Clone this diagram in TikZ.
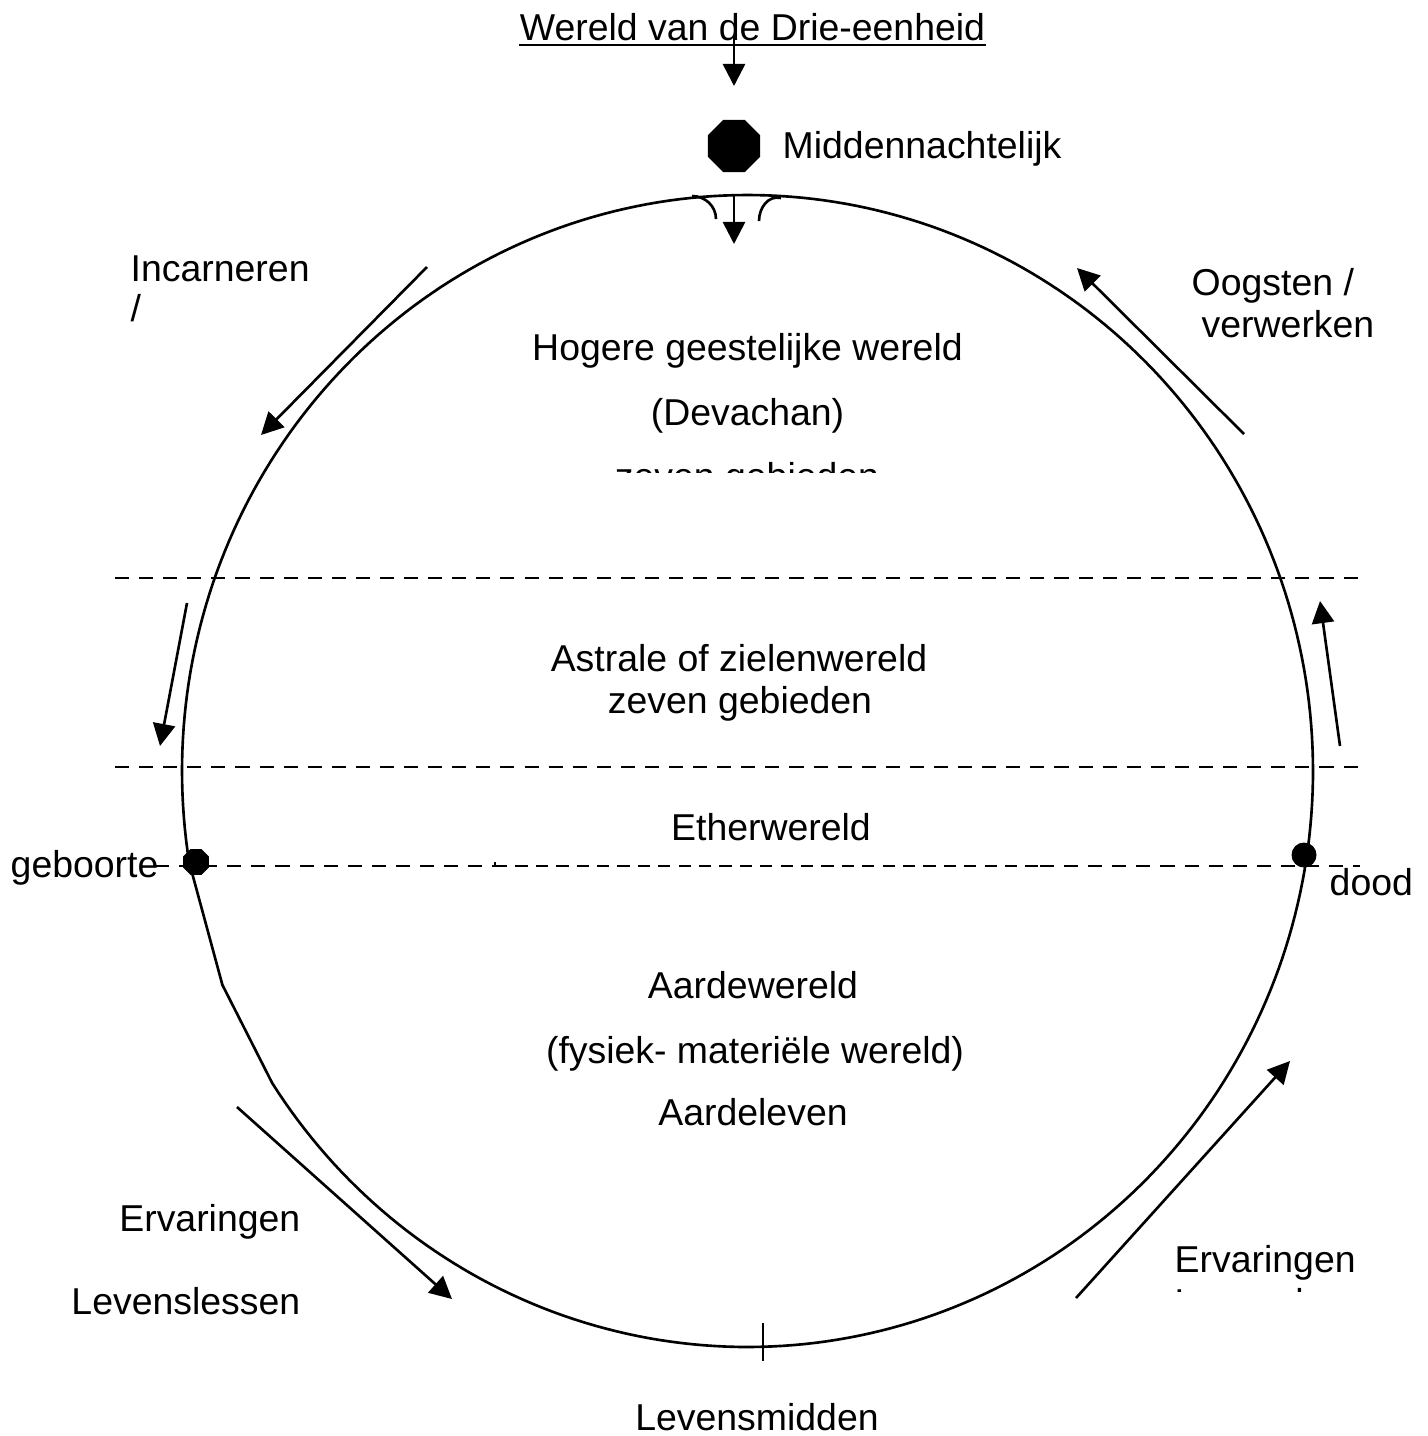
\documentclass[tikz,border=0pt]{standalone}
\usepackage{fontspec}
\setmainfont{Liberation Sans}
\usetikzlibrary{arrows.meta,shapes.geometric}
\begin{document}
\begin{tikzpicture}[x=0.01cm,y=-0.01cm,
  lbl/.style={inner sep=0pt, font=\fontsize{10.64pt}{12.8pt}\selectfont},
  ln/.style={line width=0.75pt},
  arr/.style={line width=0.75pt, -{Triangle[length=6.3pt,width=6.3pt]}},
  dsh/.style={line width=0.8pt, dash pattern=on 4pt off 2.85pt},
  thindsh/.style={line width=0.35pt, dash pattern=on 3.5pt off 2.3pt},
  oct/.style={regular polygon, regular polygon sides=8, fill=black, draw=none, inner sep=0pt}]

\useasboundingbox (0,0) rectangle (1428,1436);

% title and top arrows
\node[lbl, anchor=base] (title) at (752.5,40) {Wereld van de Drie-eenheid};
\draw[line width=0.5pt] ([yshift=-0.05cm]title.base west) -- ([yshift=-0.05cm]title.base east);
\node[oct, minimum size=0.563cm] (mid) at (734,146) {};
\node[lbl, anchor=base west] (midtxt) at (782,158) {Middennachtelijk};
\coordinate (a1s) at (734,37);
\coordinate (a1e) at (734,86);
\draw[arr] (a1s) -- (a1e);

% the circle (lower left part drawn as chords)
\coordinate (gb) at (189.1,862.1);
\coordinate (v1) at (222.4,984.9);
\draw[ln, line join=round] plot[domain=170.9:507.2, samples=300] ({747.5+565.5*cos(\x)},{771+576*sin(\x)}) -- (v1) -- cycle;

% small arcs and arrow at top of circle
\coordinate (ctop) at (734,195);
\coordinate (ctopE) at (734,244);
\draw[arr] (ctop) -- (ctopE);
\coordinate (la1) at (692,196);
\coordinate (la2) at (716,219);
\draw[ln] (la1) .. controls (705,196) and (716,206) .. (la2);
\coordinate (ra1) at (781,198);
\coordinate (ra2) at (759,221);
\draw[ln] (ra1) .. controls (768,195) and (759,208) .. (ra2);

% bottom tick
\coordinate (tk1) at (763,1323);
\coordinate (tk2) at (763,1361);
\draw[ln] (tk1) -- (tk2);

% dashed layer lines
\coordinate (d1a) at (115,578); \coordinate (d1b) at (1363,578);
\draw[dsh] (d1a) -- (d1b);
\coordinate (d2a) at (115,767); \coordinate (d2b) at (1360,767);
\draw[dsh] (d2a) -- (d2b);
\coordinate (d3a) at (155,866); \coordinate (d3b) at (495,866);
\coordinate (d3c) at (1040,866); \coordinate (d3d) at (1360,866);
\draw[dsh] (d3a) -- (d3b);
\draw[thindsh] (d3b) -- (d3c);
\draw[dsh] (d3c) -- (d3d);
\coordinate (d3t) at (495,862);
\draw[line width=0.35pt] (d3t) -- (d3b);

% dots
\node[oct, minimum size=0.28cm] (geb) at (196,862) {};
\node[circle, fill=black, inner sep=0pt, minimum size=0.25cm] (dood) at (1304,855) {};

% arrows around the circle
\coordinate (i1) at (427,267); \coordinate (i2) at (261,435);
\draw[arr] (i1) -- (i2);
\coordinate (l1) at (187,603); \coordinate (l2) at (160,746);
\draw[arr] (l1) -- (l2);
\coordinate (o1) at (1244,434); \coordinate (o2) at (1077,268);
\draw[arr] (o1) -- (o2);
\coordinate (r1) at (1340,746); \coordinate (r2) at (1320,601);
\draw[arr] (r1) -- (r2);
\coordinate (e1) at (237,1107); \coordinate (e2) at (452,1299);
\draw[arr] (e1) -- (e2);
\coordinate (f1) at (1076,1298); \coordinate (f2) at (1290,1061);
\draw[arr] (f1) -- (f2);

% labels
\node[lbl, anchor=base west] (inc) at (130,281) {Incarneren};
\node[lbl, anchor=base west] (incs) at (130,321) {/};
\node[lbl, anchor=base west] (oog) at (1191,295) {Oogsten /};
\node[lbl, anchor=base west] (verw) at (1201,337) {verwerken};

\node[lbl, anchor=base] (hog) at (747.5,360) {Hogere geestelijke wereld};
\node[lbl, anchor=base] (dev) at (747.5,425) {(Devachan)};
\begin{scope}
  \clip (500,440) rectangle (1000,472);
  \node[lbl, anchor=base] (zev1) at (747,489) {zeven gebieden};
\end{scope}

\node[lbl, anchor=base] (astr) at (739,671) {Astrale of zielenwereld};
\node[lbl, anchor=base] (zev2) at (740,713) {zeven gebieden};
\node[lbl, anchor=base] (eth) at (771,840) {Etherwereld};

\node[lbl, anchor=base west] (gebt) at (10,877) {geboorte};
\node[lbl, anchor=base west] (doodt) at (1329,895) {dood};

\node[lbl, anchor=base] (aw) at (753,998) {Aardewereld};
\node[lbl, anchor=base] (fys) at (755,1063) {(fysiek- materiële wereld)};
\node[lbl, anchor=base] (al) at (753,1125) {Aardeleven};

\node[lbl, anchor=base east] (erv1) at (301,1231) {Ervaringen};
\node[lbl, anchor=base east] (lev1) at (301,1314) {Levenslessen};

\node[lbl, anchor=base west] (erv2) at (1174,1272) {Ervaringen};
\begin{scope}
  \clip (1150,1280) rectangle (1420,1291);
  \node[lbl, anchor=base west] (lev2) at (1174,1315) {Levenslessen};
\end{scope}

\node[lbl, anchor=base] (lm) at (757,1430) {Levensmidden};
\end{tikzpicture}
\end{document}
